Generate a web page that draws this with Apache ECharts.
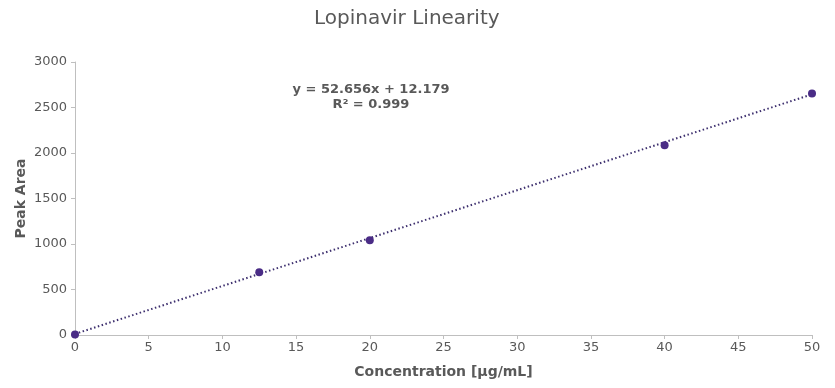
<!DOCTYPE html>
<html><head><meta charset="utf-8">
<script src="https://cdn.jsdelivr.net/npm/echarts@6/dist/echarts.min.js"></script>
<style>html,body{margin:0;padding:0;background:#fff}#c{width:835px;height:388px}</style>
</head><body><div id="c"></div>
<script>
const concentrations = [0, 12.5, 20, 40, 50];
const peakAreas = [5, 690, 1042, 2085, 2655];
const slope = 52.656, intercept = 12.179;
const trendX = [0, 50];
const xTicks = [0, 5, 10, 15, 20, 25, 30, 35, 40, 45, 50];
const yTicks = [0, 500, 1000, 1500, 2000, 2500, 3000];

const FONT = 'Verdana, "DejaVu Sans", sans-serif';
const chart = echarts.init(document.getElementById('c'));
chart.setOption({
  animation: false,
  title: {text: 'Lopinavir Linearity', left: 309, top: 4,
    textStyle: {fontFamily: FONT, fontSize: 20, fontWeight: 'normal', color: '#595959'}},
  grid: {left: 75, right: 23, top: 62, bottom: 53, containLabel: false, outerBoundsMode: 'none'},
  xAxis: {type: 'value', min: 0, max: 50, interval: 5,
    name: 'Concentration [µg/mL]', nameLocation: 'middle', nameGap: 30, nameMoveOverlap: false,
    nameTextStyle: {fontFamily: FONT, fontSize: 14, fontWeight: 'bold', color: '#595959'},
    axisLine: {lineStyle: {color: '#bfbfbf'}},
    axisTick: {show: true, length: 4, lineStyle: {color: '#bfbfbf'}},
    splitLine: {show: false},
    axisLabel: {fontFamily: FONT, fontSize: 13, color: '#595959', margin: 6}},
  yAxis: {type: 'value', min: 0, max: 3000, interval: 500,
    name: 'Peak Area', nameLocation: 'middle', nameGap: 47, nameMoveOverlap: false,
    nameTextStyle: {fontFamily: FONT, fontSize: 14, fontWeight: 'bold', color: '#595959'},
    axisLine: {show: true, lineStyle: {color: '#bfbfbf'}},
    axisTick: {show: true, length: 4, lineStyle: {color: '#bfbfbf'}},
    splitLine: {show: false},
    axisLabel: {fontFamily: FONT, fontSize: 13, color: '#595959', margin: 8,
      formatter: v => String(v)}},
  graphic: [{type: 'text', x: 371, y: 82,
    style: {text: 'y = 52.656x + 12.179\nR² = 0.999', font: 'bold 13px ' + FONT, fill: '#595959',
      lineHeight: 15, align: 'center'}}],
  series: [
    {type: 'line', data: trendX.map(x => [x, slope * x + intercept]), showSymbol: false,
      lineStyle: {color: '#3d2f6e', width: 2, type: [1.5, 2.5]}, z: 1, silent: true},
    {type: 'scatter', data: concentrations.map((c, i) => [c, peakAreas[i]]), symbolSize: 8,
      itemStyle: {color: '#4a2c86', opacity: 1}, z: 2}
  ]
});
</script></body></html>
